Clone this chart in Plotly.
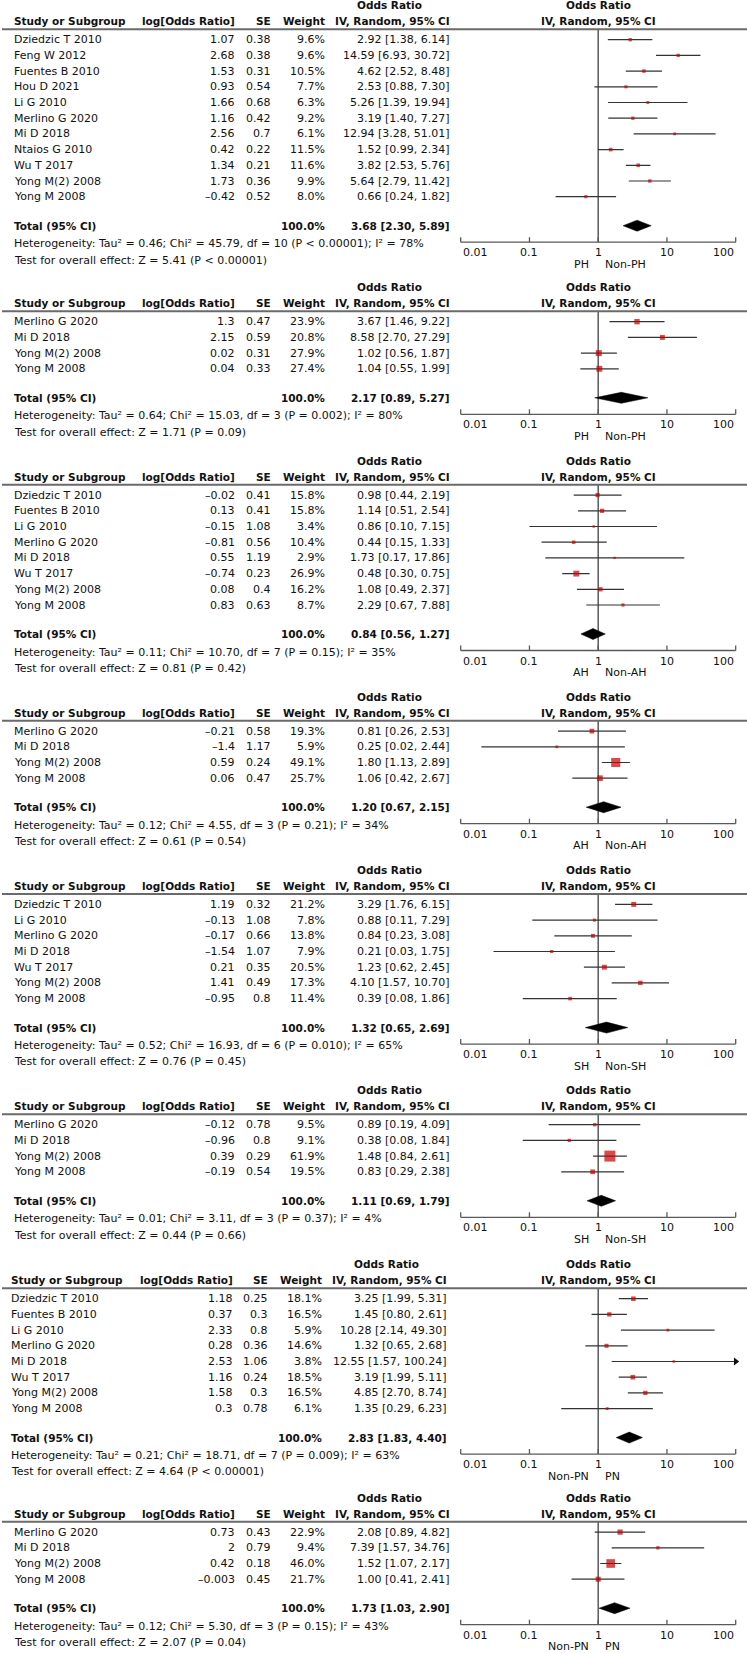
import math
import plotly.graph_objects as go

# ---------------- data ----------------
p1_study = ["Dziedzic T 2010", "Feng W 2012", "Fuentes B 2010", "Hou D 2021", "Li G 2010",
            "Merlino G 2020", "Mi D 2018", "Ntaios G 2010", "Wu T 2017", "Yong M(2) 2008", "Yong M 2008"]
p1_logor = [1.07, 2.68, 1.53, 0.93, 1.66, 1.16, 2.56, 0.42, 1.34, 1.73, -0.42]
p1_se = [0.38, 0.38, 0.31, 0.54, 0.68, 0.42, 0.7, 0.22, 0.21, 0.36, 0.52]
p1_weight = [9.6, 9.6, 10.5, 7.7, 6.3, 9.2, 6.1, 11.5, 11.6, 9.9, 8.0]
p1_or = [2.92, 14.59, 4.62, 2.53, 5.26, 3.19, 12.94, 1.52, 3.82, 5.64, 0.66]
p1_lo = [1.38, 6.93, 2.52, 0.88, 1.39, 1.40, 3.28, 0.99, 2.53, 2.79, 0.24]
p1_hi = [6.14, 30.72, 8.48, 7.30, 19.94, 7.27, 51.01, 2.34, 5.76, 11.42, 1.82]
p1_total = [3.68, 2.30, 5.89]
p1_het = ["0.46", "45.79", "10", "P < 0.00001", "78%"]
p1_test = "Z = 5.41 (P < 0.00001)"
p1_labels = ["PH", "Non-PH"]

p2_study = ["Merlino G 2020", "Mi D 2018", "Yong M(2) 2008", "Yong M 2008"]
p2_logor = [1.3, 2.15, 0.02, 0.04]
p2_se = [0.47, 0.59, 0.31, 0.33]
p2_weight = [23.9, 20.8, 27.9, 27.4]
p2_or = [3.67, 8.58, 1.02, 1.04]
p2_lo = [1.46, 2.70, 0.56, 0.55]
p2_hi = [9.22, 27.29, 1.87, 1.99]
p2_total = [2.17, 0.89, 5.27]
p2_het = ["0.64", "15.03", "3", "P = 0.002", "80%"]
p2_test = "Z = 1.71 (P = 0.09)"
p2_labels = ["PH", "Non-PH"]

p3_study = ["Dziedzic T 2010", "Fuentes B 2010", "Li G 2010", "Merlino G 2020", "Mi D 2018",
            "Wu T 2017", "Yong M(2) 2008", "Yong M 2008"]
p3_logor = [-0.02, 0.13, -0.15, -0.81, 0.55, -0.74, 0.08, 0.83]
p3_se = [0.41, 0.41, 1.08, 0.56, 1.19, 0.23, 0.4, 0.63]
p3_weight = [15.8, 15.8, 3.4, 10.4, 2.9, 26.9, 16.2, 8.7]
p3_or = [0.98, 1.14, 0.86, 0.44, 1.73, 0.48, 1.08, 2.29]
p3_lo = [0.44, 0.51, 0.10, 0.15, 0.17, 0.30, 0.49, 0.67]
p3_hi = [2.19, 2.54, 7.15, 1.33, 17.86, 0.75, 2.37, 7.88]
p3_total = [0.84, 0.56, 1.27]
p3_het = ["0.11", "10.70", "7", "P = 0.15", "35%"]
p3_test = "Z = 0.81 (P = 0.42)"
p3_labels = ["AH", "Non-AH"]

p4_study = ["Merlino G 2020", "Mi D 2018", "Yong M(2) 2008", "Yong M 2008"]
p4_logor = [-0.21, -1.4, 0.59, 0.06]
p4_se = [0.58, 1.17, 0.24, 0.47]
p4_weight = [19.3, 5.9, 49.1, 25.7]
p4_or = [0.81, 0.25, 1.80, 1.06]
p4_lo = [0.26, 0.02, 1.13, 0.42]
p4_hi = [2.53, 2.44, 2.89, 2.67]
p4_total = [1.20, 0.67, 2.15]
p4_het = ["0.12", "4.55", "3", "P = 0.21", "34%"]
p4_test = "Z = 0.61 (P = 0.54)"
p4_labels = ["AH", "Non-AH"]

p5_study = ["Dziedzic T 2010", "Li G 2010", "Merlino G 2020", "Mi D 2018", "Wu T 2017",
            "Yong M(2) 2008", "Yong M 2008"]
p5_logor = [1.19, -0.13, -0.17, -1.54, 0.21, 1.41, -0.95]
p5_se = [0.32, 1.08, 0.66, 1.07, 0.35, 0.49, 0.8]
p5_weight = [21.2, 7.8, 13.8, 7.9, 20.5, 17.3, 11.4]
p5_or = [3.29, 0.88, 0.84, 0.21, 1.23, 4.10, 0.39]
p5_lo = [1.76, 0.11, 0.23, 0.03, 0.62, 1.57, 0.08]
p5_hi = [6.15, 7.29, 3.08, 1.75, 2.45, 10.70, 1.86]
p5_total = [1.32, 0.65, 2.69]
p5_het = ["0.52", "16.93", "6", "P = 0.010", "65%"]
p5_test = "Z = 0.76 (P = 0.45)"
p5_labels = ["SH", "Non-SH"]

p6_study = ["Merlino G 2020", "Mi D 2018", "Yong M(2) 2008", "Yong M 2008"]
p6_logor = [-0.12, -0.96, 0.39, -0.19]
p6_se = [0.78, 0.8, 0.29, 0.54]
p6_weight = [9.5, 9.1, 61.9, 19.5]
p6_or = [0.89, 0.38, 1.48, 0.83]
p6_lo = [0.19, 0.08, 0.84, 0.29]
p6_hi = [4.09, 1.84, 2.61, 2.38]
p6_total = [1.11, 0.69, 1.79]
p6_het = ["0.01", "3.11", "3", "P = 0.37", "4%"]
p6_test = "Z = 0.44 (P = 0.66)"
p6_labels = ["SH", "Non-SH"]

p7_study = ["Dziedzic T 2010", "Fuentes B 2010", "Li G 2010", "Merlino G 2020", "Mi D 2018",
            "Wu T 2017", "Yong M(2) 2008", "Yong M 2008"]
p7_logor = [1.18, 0.37, 2.33, 0.28, 2.53, 1.16, 1.58, 0.3]
p7_se = [0.25, 0.3, 0.8, 0.36, 1.06, 0.24, 0.3, 0.78]
p7_weight = [18.1, 16.5, 5.9, 14.6, 3.8, 18.5, 16.5, 6.1]
p7_or = [3.25, 1.45, 10.28, 1.32, 12.55, 3.19, 4.85, 1.35]
p7_lo = [1.99, 0.80, 2.14, 0.65, 1.57, 1.99, 2.70, 0.29]
p7_hi = [5.31, 2.61, 49.30, 2.68, 100.24, 5.11, 8.74, 6.23]
p7_total = [2.83, 1.83, 4.40]
p7_het = ["0.21", "18.71", "7", "P = 0.009", "63%"]
p7_test = "Z = 4.64 (P < 0.00001)"
p7_labels = ["Non-PN", "PN"]

p8_study = ["Merlino G 2020", "Mi D 2018", "Yong M(2) 2008", "Yong M 2008"]
p8_logor = [0.73, 2, 0.42, -0.003]
p8_se = [0.43, 0.79, 0.18, 0.45]
p8_weight = [22.9, 9.4, 46.0, 21.7]
p8_or = [2.08, 7.39, 1.52, 1.00]
p8_lo = [0.89, 1.57, 1.07, 0.41]
p8_hi = [4.82, 34.76, 2.17, 2.41]
p8_total = [1.73, 1.03, 2.90]
p8_het = ["0.12", "5.30", "3", "P = 0.15", "43%"]
p8_test = "Z = 2.07 (P = 0.04)"
p8_labels = ["Non-PN", "PN"]

tick_values = [0.01, 0.1, 1, 10, 100]
tick_labels = ["0.01", "0.1", "1", "10", "100"]

panels = [
    dict(study=p1_study, logor=p1_logor, se=p1_se, w=p1_weight, orr=p1_or, lo=p1_lo, hi=p1_hi,
         total=p1_total, het=p1_het, test=p1_test, labels=p1_labels),
    dict(study=p2_study, logor=p2_logor, se=p2_se, w=p2_weight, orr=p2_or, lo=p2_lo, hi=p2_hi,
         total=p2_total, het=p2_het, test=p2_test, labels=p2_labels),
    dict(study=p3_study, logor=p3_logor, se=p3_se, w=p3_weight, orr=p3_or, lo=p3_lo, hi=p3_hi,
         total=p3_total, het=p3_het, test=p3_test, labels=p3_labels),
    dict(study=p4_study, logor=p4_logor, se=p4_se, w=p4_weight, orr=p4_or, lo=p4_lo, hi=p4_hi,
         total=p4_total, het=p4_het, test=p4_test, labels=p4_labels),
    dict(study=p5_study, logor=p5_logor, se=p5_se, w=p5_weight, orr=p5_or, lo=p5_lo, hi=p5_hi,
         total=p5_total, het=p5_het, test=p5_test, labels=p5_labels),
    dict(study=p6_study, logor=p6_logor, se=p6_se, w=p6_weight, orr=p6_or, lo=p6_lo, hi=p6_hi,
         total=p6_total, het=p6_het, test=p6_test, labels=p6_labels),
    dict(study=p7_study, logor=p7_logor, se=p7_se, w=p7_weight, orr=p7_or, lo=p7_lo, hi=p7_hi,
         total=p7_total, het=p7_het, test=p7_test, labels=p7_labels),
    dict(study=p8_study, logor=p8_logor, se=p8_se, w=p8_weight, orr=p8_or, lo=p8_lo, hi=p8_hi,
         total=p8_total, het=p8_het, test=p8_test, labels=p8_labels),
]

# ---------------- layout / style ----------------
W, H = 747, 1653
FONT = "DejaVu Sans"
FS = 11
FSB = 10.5
TXT = "#111111"
GRID = "#5a5a5a"
RED = "#c40000"

header_line_y = [29.3, 311.3, 484.7, 720.7, 894.0, 1114.3, 1288.3, 1521.7]
x_shift = [0, 0, 0, 0, 0, 0, -2.5, 0]

X_NAME, X_LOG, X_SE, X_W, X_CI, X_ORHEAD = 11.5, 237.3, 272.7, 326.7, 451.7, 389.0
AX_L, AX_R = 460.7, 735.7
PAD = 0.03
dec = (AX_R - AX_L) / 4.0

XMIN, XMAX = 0.01, 100


def numfmt(v):
    s = f"{v:g}"
    return s.replace("-", "\u2013")


fig = go.Figure()
ann = []
shapes = []


def text(x, y, s, anchor="left", bold=False, xref="paper", xshift=0, size=None):
    ann.append(dict(
        x=(x / W) if xref == "paper" else x, y=y, xref=xref, yref="y",
        text=f"<b>{s}</b>" if bold else s, showarrow=False,
        xanchor=anchor, yanchor="middle", xshift=xshift,
        font=dict(family=FONT, size=size or (FSB if bold else FS), color=TXT)))


def line_trace(xs, ys, color, width):
    fig.add_trace(go.Scatter(x=xs, y=ys, mode="lines", line=dict(color=color, width=width),
                             hoverinfo="skip", showlegend=False))


for k, p in enumerate(panels):
    L = header_line_y[k]
    dx = x_shift[k]
    n = len(p["study"])
    rows = [L + 10.4 + 15.7 * i for i in range(n)]
    ty = rows[-1] + 29
    hy = ty + 18
    sy = hy + 16.3
    ay = ty + 16.5

    # headers
    text(X_ORHEAD + dx, L - 24, "Odds Ratio", "center", bold=True)
    text(X_NAME + dx, L - 8, "Study or Subgroup", "left", bold=True)
    text(X_LOG + dx, L - 8, "log[Odds Ratio]", "right", bold=True)
    text(X_SE + dx, L - 8, "SE", "right", bold=True)
    text(X_W + dx, L - 8, "Weight", "right", bold=True)
    text(X_CI + dx, L - 8, "IV, Random, 95% CI", "right", bold=True)
    text(0, L - 24, "Odds Ratio", "center", bold=True, xref="x")
    text(0, L - 8, "IV, Random, 95% CI", "center", bold=True, xref="x")
    shapes.append(dict(type="line", xref="paper", yref="y", x0=2 / W, x1=1, y0=L, y1=L,
                       line=dict(color="#6a6a6a", width=2)))

    # study rows
    for i in range(n):
        y = rows[i]
        text(X_NAME + dx, y, p["study"][i], "left")
        text(X_LOG + dx, y, numfmt(p["logor"][i]), "right")
        text(X_SE + dx, y, numfmt(p["se"][i]), "right")
        text(X_W + dx, y, f"{p['w'][i]:.1f}%", "right")
        text(X_CI + dx, y, f"{p['orr'][i]:.2f} [{p['lo'][i]:.2f}, {p['hi'][i]:.2f}]", "right")

    # totals
    o, lo, hi = p["total"]
    text(X_NAME + dx, ty, "Total (95% CI)", "left", bold=True)
    text(X_W + dx, ty, "100.0%", "right", bold=True)
    text(X_CI + dx, ty, f"{o:.2f} [{lo:.2f}, {hi:.2f}]", "right", bold=True)
    t2, c2, df, pv, i2 = p["het"]
    text(X_NAME + dx, hy,
         f"Heterogeneity: Tau\u00b2 = {t2}; Chi\u00b2 = {c2}, df = {df} ({pv}); I\u00b2 = {i2}",
         "left")
    text(X_NAME + dx, sy, f"Test for overall effect: {p['test']}", "left")

    # vertical line of no effect
    line_trace([1, 1], [L, ay], GRID, 1.5)

    # CI whiskers
    xs, ys = [], []
    arrows = []
    for i in range(n):
        a = max(p["lo"][i], XMIN)
        b = min(p["hi"][i], XMAX)
        xs += [a, b, None]
        ys += [rows[i], rows[i], None]
        if p["hi"][i] > XMAX:
            arrows.append((XMAX, rows[i]))
    line_trace(xs, ys, "#333333", 1.2)
    if arrows:
        fig.add_trace(go.Scatter(x=[a[0] for a in arrows], y=[a[1] for a in arrows], mode="markers",
                                 marker=dict(symbol="triangle-right", size=7, color="#111111"),
                                 cliponaxis=False, hoverinfo="skip", showlegend=False))

    # weight squares
    sizes = [1.9 + 0.147 * w for w in p["w"]]
    fig.add_trace(go.Scatter(x=p["orr"], y=rows, mode="markers",
                             marker=dict(symbol="square", size=sizes, color=RED, line=dict(width=0)),
                             cliponaxis=False, hoverinfo="skip", showlegend=False))

    # pooled diamond
    fig.add_trace(go.Scatter(x=[lo, o, hi, o, lo], y=[ty, ty - 5.5, ty, ty + 5.5, ty],
                             mode="lines", fill="toself", fillcolor="#000000",
                             line=dict(color="#000000", width=0.5),
                             hoverinfo="skip", showlegend=False))

    # axis line and ticks
    line_trace([XMIN, XMAX], [ay, ay], GRID, 1.3)
    tx, tyy = [], []
    for t in tick_values:
        tx += [t, t, None]
        tyy += [ay, ay - 5, None]
    line_trace(tx, tyy, GRID, 1.3)
    for t, lab in zip(tick_values, tick_labels):
        anchor = "left" if t == tick_values[0] else ("right" if t == tick_values[-1] else "center")
        text(math.log10(t), ay + 10.5, lab, anchor, xref="x")
    text(0, ay + 22, p["labels"][0], "right", xref="x", xshift=-7)
    text(0, ay + 22, p["labels"][1], "left", xref="x", xshift=5)

fig.update_layout(
    width=W, height=H,
    margin=dict(l=0, r=0, t=0, b=0),
    paper_bgcolor="white", plot_bgcolor="white",
    showlegend=False,
    xaxis=dict(type="log", range=[-2 - PAD, 2 + PAD],
               domain=[(AX_L - PAD * dec) / W, (AX_R + PAD * dec) / W],
               visible=False, showgrid=False, zeroline=False, fixedrange=True),
    yaxis=dict(range=[H, 0], domain=[0, 1], visible=False, showgrid=False,
               zeroline=False, fixedrange=True),
    annotations=ann,
    shapes=shapes,
)

fig.write_html(
    "out.html",
    config={"displayModeBar": False},
    post_script="document.body.style.margin='0';document.body.style.padding='0';",
)
